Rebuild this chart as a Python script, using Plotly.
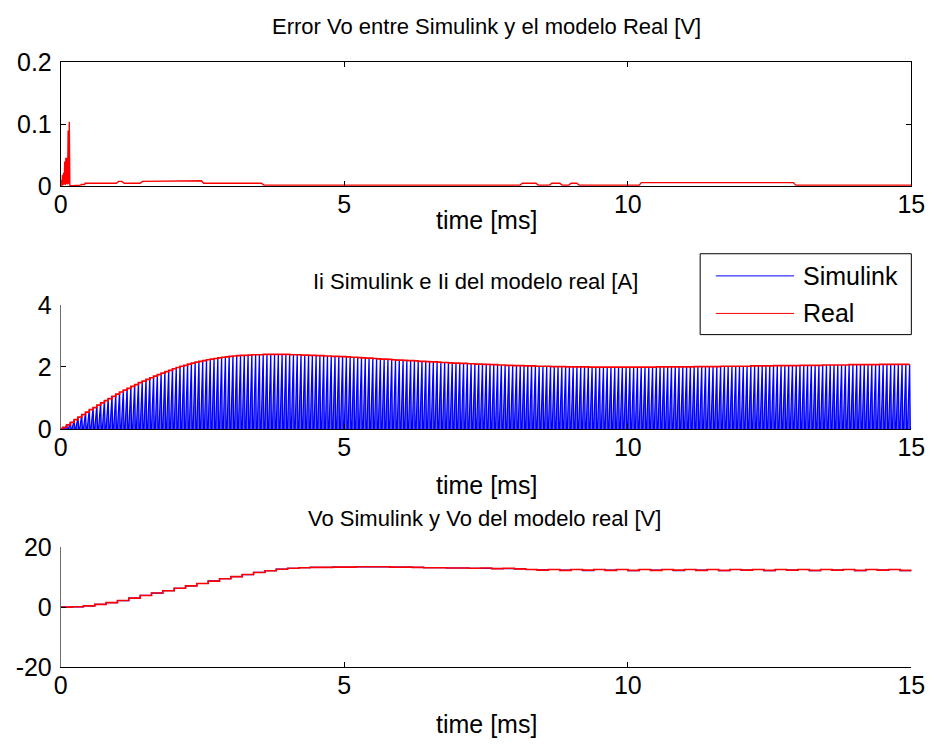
import plotly.graph_objects as go

# ---------------- data ----------------
x_ticks = [0, 5, 10, 15]
x_tick_text = ["0", "5", "10", "15"]

# Error Vo (Simulink - Real) [V]
err_t = [0.00, 0.01, 0.02, 0.03, 0.04, 0.05, 0.06, 0.07, 0.08, 0.09, 0.10, 0.11, 0.12, 0.13, 0.14, 0.15, 0.16, 0.17,
         0.20, 0.25, 0.26, 0.35, 0.36, 0.42, 0.43, 0.98, 1.02, 1.08, 1.12, 1.40, 1.44, 2.38, 2.42, 2.48, 2.52,
         3.54, 3.58, 8.10, 8.14, 8.38, 8.42, 8.62, 8.66, 8.80, 8.84, 8.96, 9.00, 9.10, 9.14, 10.20, 10.24,
         12.92, 12.96, 15.0]
err_v = [0.000, 0.010, 0.001, 0.018, 0.002, 0.022, 0.003, 0.040, 0.002, 0.046, 0.004, 0.046, 0.003, 0.090, 0.004, 0.104, 0.002, 0.001,
         0.001, 0.001, 0.002, 0.002, 0.003, 0.003, 0.005, 0.005, 0.008, 0.008, 0.005, 0.005, 0.008, 0.008, 0.009, 0.009, 0.005,
         0.005, 0.002, 0.002, 0.005, 0.005, 0.002, 0.002, 0.005, 0.005, 0.002, 0.002, 0.005, 0.005, 0.002, 0.002, 0.006,
         0.006, 0.002, 0.002]
err_yticks = [0, 0.1, 0.2]
err_ytext = ["0", "0.1", "0.2"]

# Inductor current: peak of each switching cycle (15 cycles per ms) [A]
cycles_per_ms = 15
ii_peaks = [
    0.05, 0.13, 0.21, 0.30, 0.38, 0.46, 0.54, 0.62, 0.69, 0.77, 0.84, 0.91, 0.98, 1.05, 1.12,
    1.19, 1.25, 1.31, 1.37, 1.43, 1.49, 1.54, 1.60, 1.65, 1.70, 1.75, 1.80, 1.85, 1.89, 1.94,
    1.98, 2.02, 2.05, 2.09, 2.12, 2.15, 2.18, 2.20, 2.23, 2.25, 2.27, 2.29, 2.31, 2.32, 2.34,
    2.35, 2.36, 2.37, 2.37, 2.38, 2.39, 2.39, 2.39, 2.40, 2.40, 2.40, 2.40, 2.40, 2.40, 2.40,
    2.39, 2.39, 2.39, 2.38, 2.38, 2.37, 2.37, 2.36, 2.36, 2.35, 2.35, 2.34, 2.34, 2.33, 2.33,
    2.32, 2.31, 2.31, 2.30, 2.29, 2.28, 2.28, 2.27, 2.26, 2.25, 2.25, 2.24, 2.23, 2.22, 2.22,
    2.21, 2.20, 2.20, 2.19, 2.18, 2.18, 2.17, 2.16, 2.16, 2.15, 2.14, 2.14, 2.13, 2.12, 2.12,
    2.11, 2.11, 2.10, 2.10, 2.09, 2.09, 2.08, 2.08, 2.07, 2.07, 2.06, 2.06, 2.05, 2.05, 2.04,
    2.04, 2.04, 2.03, 2.03, 2.03, 2.02, 2.02, 2.02, 2.02, 2.01, 2.01, 2.01, 2.01, 2.00, 2.00,
    2.00, 2.00, 2.00, 2.00, 1.99, 1.99, 1.99, 1.99, 1.99, 1.99, 1.99, 1.99, 1.99, 1.99, 1.99,
    1.99, 1.99, 1.99, 1.99, 1.99, 1.99, 1.99, 2.00, 2.00, 2.00, 2.00, 2.00, 2.00, 2.00, 2.00,
    2.00, 2.00, 2.01, 2.01, 2.01, 2.01, 2.01, 2.01, 2.01, 2.02, 2.02, 2.02, 2.02, 2.02, 2.02,
    2.02, 2.02, 2.03, 2.03, 2.03, 2.03, 2.03, 2.03, 2.04, 2.04, 2.04, 2.04, 2.04, 2.04, 2.04,
    2.05, 2.05, 2.05, 2.05, 2.05, 2.05, 2.06, 2.06, 2.06, 2.06, 2.06, 2.06, 2.06, 2.07, 2.07,
    2.07, 2.07, 2.07, 2.07, 2.07, 2.07, 2.08, 2.08, 2.08, 2.08, 2.08, 2.08, 2.08, 2.08, 2.08,
]
# The real model's current follows the cycle peaks
ii_real_peaks = ii_peaks
ii_yticks = [0, 2, 4]
ii_ytext = ["0", "2", "4"]

# Output voltage sampled every 0.2 ms [V]
vo_step_ms = 0.2
vo_real = [0.0, 0.1, 0.4, 0.9, 1.5, 2.2, 3.0, 3.9, 4.7, 5.5,
           6.3, 7.1, 7.9, 8.7, 9.5, 10.2, 10.9, 11.6, 12.2, 12.7,
           13.0, 13.2, 13.3, 13.3, 13.4, 13.4, 13.5, 13.5, 13.5, 13.4,
           13.4, 13.3, 13.2, 13.2, 13.1, 13.1, 13.0, 13.1, 12.9, 13.0,
           12.8, 12.6, 12.4, 12.6, 12.3, 12.6, 12.4, 12.6, 12.3, 12.6,
           12.3, 12.6, 12.3, 12.6, 12.4, 12.6, 12.3, 12.6, 12.3, 12.6,
           12.4, 12.6, 12.3, 12.6, 12.4, 12.6, 12.3, 12.6, 12.4, 12.6,
           12.3, 12.6, 12.4, 12.6, 12.3, 12.5]
vo_sim = [0.0, 0.1, 0.4, 0.9, 1.5, 2.2, 3.0, 3.9, 4.7, 5.5,
          6.3, 7.1, 7.9, 8.8, 9.5, 10.2, 10.9, 11.6, 12.2, 12.7,
          13.0, 13.2, 13.3, 13.3, 13.4, 13.4, 13.5, 13.5, 13.5, 13.4,
          13.4, 13.3, 13.2, 13.2, 13.1, 13.1, 13.0, 13.0, 12.9, 12.9,
          12.8, 12.6, 12.5, 12.6, 12.4, 12.6, 12.2, 12.6, 12.4, 12.6,
          12.2, 12.6, 12.4, 12.6, 12.2, 12.6, 12.4, 12.6, 12.2, 12.6,
          12.4, 12.6, 12.2, 12.6, 12.4, 12.6, 12.2, 12.6, 12.4, 12.6,
          12.2, 12.6, 12.4, 12.6, 12.2, 12.5]
vo_yticks = [-20, 0, 20]
vo_ytext = ["-20", "0", "20"]

# ---------------- build traces ----------------
W, H = 940, 753
FONT = "Liberation Sans, Arial, sans-serif"
BLUE = "#0000FF"
RED = "#FF0000"


def px_x(p):
    return p / W


def px_y(p):
    return 1 - p / H


T = 1.0 / cycles_per_ms
ii_t, ii_y = [], []
for k, pk in enumerate(ii_peaks):
    t0 = k * T
    ii_t += [t0, t0 + 0.55 * T, t0 + 0.72 * T]
    ii_y += [0.0, pk, 0.0]
ii_t.append(len(ii_peaks) * T)
ii_y.append(0.0)

env_t = [0.0] + [(k + 0.55) * T for k in range(len(ii_real_peaks))]
env_y = [0.0] + list(ii_real_peaks)

vo_t = [i * vo_step_ms for i in range(len(vo_real))]

fig = go.Figure()
fig.add_trace(go.Scatter(x=err_t, y=err_v, mode="lines", line=dict(color=RED, width=1.4),
                         xaxis="x", yaxis="y", showlegend=False))
fig.add_trace(go.Scatter(x=ii_t, y=ii_y, mode="lines", line=dict(color=BLUE, width=1.3),
                         fill="tozeroy", fillcolor="rgba(40,40,255,0.75)",
                         xaxis="x2", yaxis="y2", name="Simulink", showlegend=False))
fig.add_trace(go.Scatter(x=env_t, y=env_y, mode="lines", line=dict(color=RED, width=1.7, shape="hv"),
                         xaxis="x2", yaxis="y2", name="Real", showlegend=False))
fig.add_trace(go.Scatter(x=vo_t, y=vo_sim, mode="lines", line=dict(color=BLUE, width=1.2, shape="hv"),
                         xaxis="x3", yaxis="y3", name="Simulink", showlegend=False))
fig.add_trace(go.Scatter(x=vo_t, y=vo_real, mode="lines", line=dict(color=RED, width=1.6, shape="hv"),
                         xaxis="x3", yaxis="y3", name="Real", showlegend=False))

# ---------------- axes ----------------
xdom = [px_x(55), px_x(925)]
doms = {
    "": [px_y(179), px_y(50)],
    "2": [px_y(431), px_y(302)],
    "3": [px_y(678), px_y(554)],
}
yinfo = {
    "": ([0, 0.2], err_yticks, err_ytext, True),
    "2": ([0, 4], ii_yticks, ii_ytext, False),
    "3": ([-20, 20], vo_yticks, vo_ytext, False),
}
axcommon = dict(showgrid=False, zeroline=False, showline=True, linewidth=1,
                ticks="inside", ticklen=5, tickwidth=1, tickcolor="black",
                tickfont=dict(family=FONT, size=25, color="black"))
layout = {}
for s in ["", "2", "3"]:
    rng, tv, tt, box = yinfo[s]
    layout["xaxis" + s] = dict(domain=xdom, anchor="y" + s, range=[0, 15], tickvals=x_ticks,
                               ticktext=x_tick_text, mirror="ticks" if box else False,
                               ticklabelstandoff=-4, linecolor="black", **axcommon)
    layout["yaxis" + s] = dict(domain=doms[s], anchor="x" + s, range=rng, tickvals=tv,
                               ticktext=tt, mirror="ticks" if box else False, ticklabelstandoff=3,
                               linecolor="black" if box else "#6e6e6e", **axcommon)

fig.update_layout(**layout)

# ---------------- titles / labels ----------------
ann = []
titles = [
    ("Error Vo entre Simulink y el modelo Real [V]", 490, 13),
    ("Ii Simulink e Ii del modelo real [A]", 479, 278),
    ("Vo Simulink y Vo del modelo real [V]", 488, 524),
]
for txt, cx, cy in titles:
    ann.append(dict(text=txt, x=px_x(cx), y=px_y(cy), xref="paper", yref="paper",
                    xanchor="center", yanchor="middle", showarrow=False,
                    font=dict(family=FONT, size=22, color="black")))
for cy in [214, 489, 737]:
    ann.append(dict(text="time [ms]", x=px_x(490), y=px_y(cy), xref="paper", yref="paper",
                    xanchor="center", yanchor="middle", showarrow=False,
                    font=dict(family=FONT, size=25, color="black")))

# legend (drawn as in MATLAB)
shapes = [
    dict(type="rect", xref="paper", yref="paper", x0=px_x(709), x1=px_x(925), y0=px_y(333), y1=px_y(249),
         line=dict(color="black", width=1), fillcolor="white", layer="above"),
    dict(type="line", xref="paper", yref="paper", x0=px_x(725), x1=px_x(805), y0=px_y(272), y1=px_y(272),
         line=dict(color=BLUE, width=1), layer="above"),
    dict(type="line", xref="paper", yref="paper", x0=px_x(725), x1=px_x(805), y0=px_y(311), y1=px_y(311),
         line=dict(color=RED, width=1), layer="above"),
]
for name, cy in [("Simulink", 272), ("Real", 311)]:
    ann.append(dict(text=name, x=px_x(812), y=px_y(cy), xref="paper", yref="paper",
                    xanchor="left", yanchor="middle", showarrow=False,
                    font=dict(family=FONT, size=25, color="black")))

fig.update_layout(width=W, height=H, autosize=False, margin=dict(l=0, r=0, t=0, b=0),
                  paper_bgcolor="white", plot_bgcolor="white", annotations=ann, shapes=shapes,
                  showlegend=False)

fig.write_html("out.html")
